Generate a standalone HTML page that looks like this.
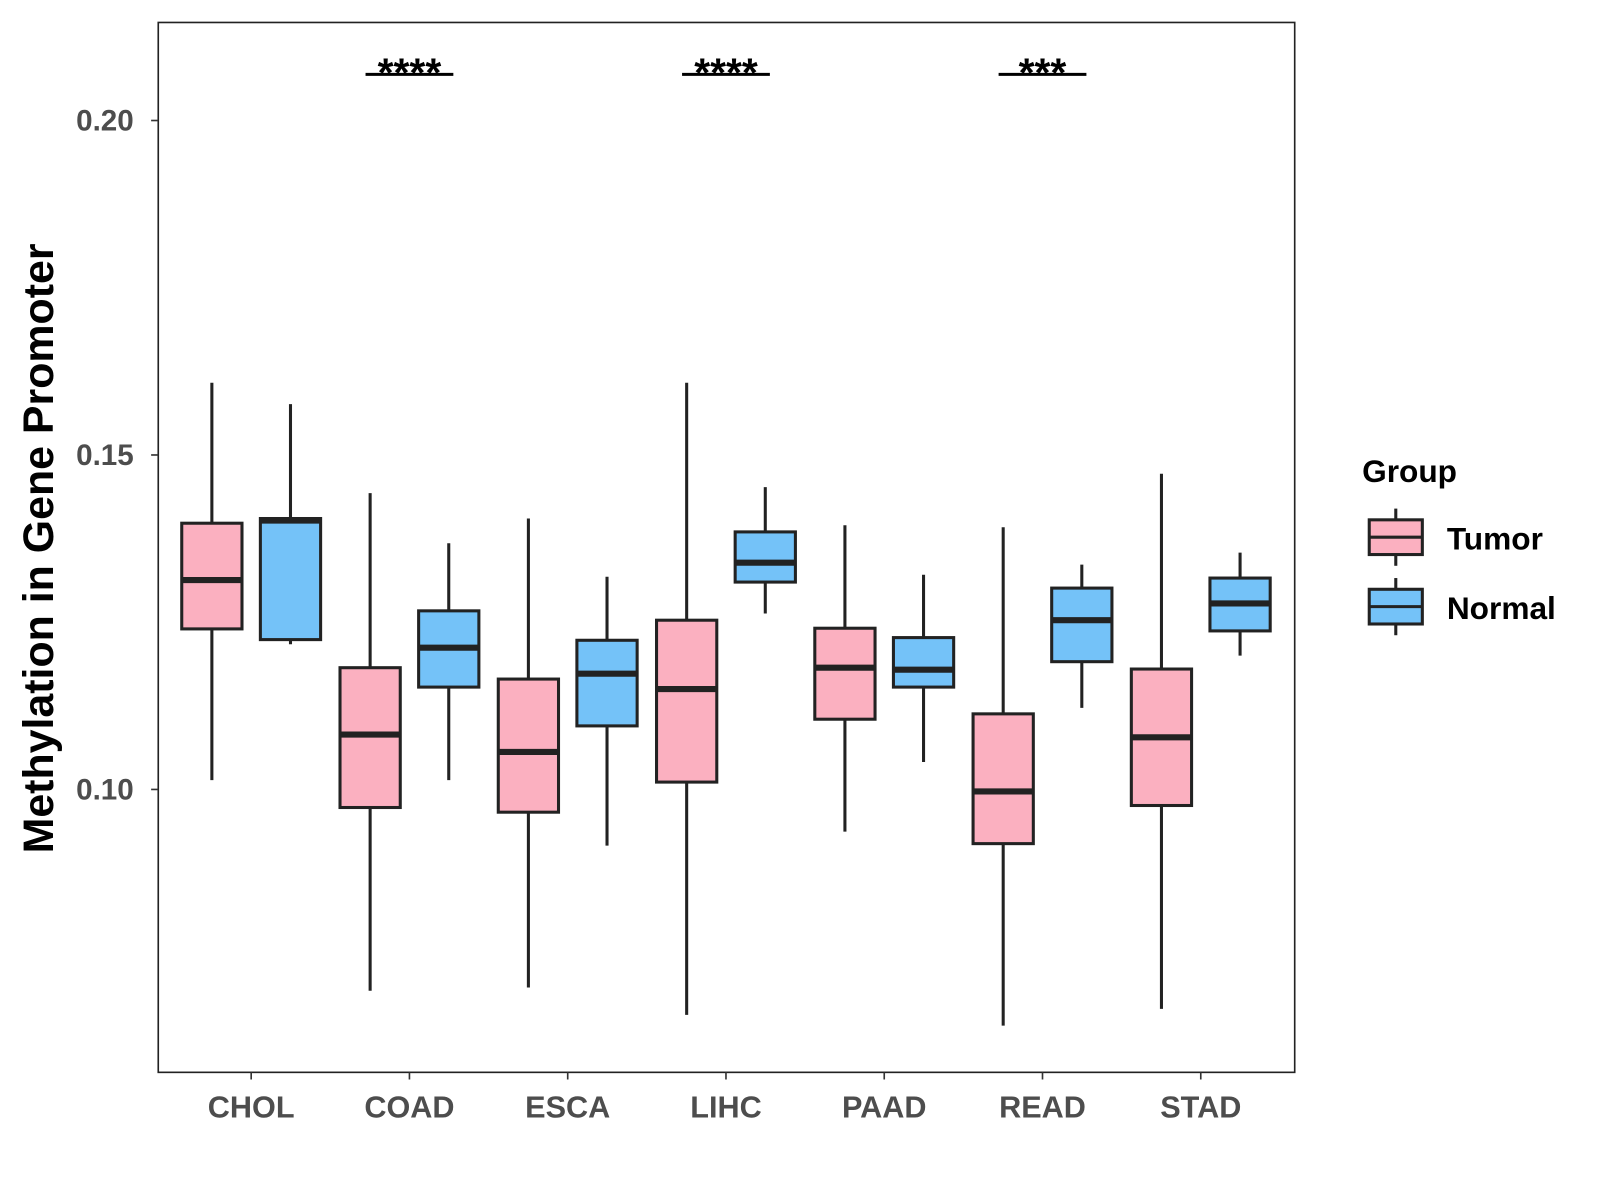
<!DOCTYPE html>
<html><head><meta charset="utf-8"><style>
html,body{margin:0;padding:0;background:#fff;}
svg{display:block;font-family:"Liberation Sans",Arial,sans-serif;}
</style></head><body>
<svg id="chart" width="1600" height="1200" viewBox="0 0 1567 1175" preserveAspectRatio="none" xmlns="http://www.w3.org/2000/svg">
<rect x="0" y="0" width="1567" height="1175" fill="#fff"/>
<rect x="155" y="22" width="1113" height="1028" fill="none" stroke="#222" stroke-width="1.6"/>
<g id="yaxis"></g>
<g id="xaxis"></g>
<g id="boxes"></g>
<g id="sig"></g>
<text x="52" y="537" transform="rotate(-90 52 537)" text-anchor="middle" font-size="42" font-weight="bold" fill="#000">Methylation in Gene Promoter</text>
<g>
<text x="1334" y="472" font-size="31" font-weight="bold" fill="#000">Group</text>
<g>
<line x1="1367" y1="498" x2="1367" y2="554" stroke="#222" stroke-width="3"/>
<rect x="1341" y="509" width="52" height="34" fill="#FBB0C0" stroke="#222" stroke-width="3"/>
<line x1="1341" y1="526" x2="1393" y2="526" stroke="#222" stroke-width="3"/>
<text x="1417" y="538" font-size="31" font-weight="bold" fill="#000">Tumor</text>
</g>
<g>
<line x1="1367" y1="566" x2="1367" y2="622" stroke="#222" stroke-width="3"/>
<rect x="1341" y="577" width="52" height="34" fill="#74C2F8" stroke="#222" stroke-width="3"/>
<line x1="1341" y1="594" x2="1393" y2="594" stroke="#222" stroke-width="3"/>
<text x="1417" y="606" font-size="31" font-weight="bold" fill="#000">Normal</text>
</g>
</g>
</svg>
<script>
const categories = ["CHOL","COAD","ESCA","LIHC","PAAD","READ","STAD"];
// [lower whisker, Q1, median, Q3, upper whisker]
const tumorStats = [
 [0.1014,0.1240,0.1313,0.1398,0.1608],
 [0.0699,0.0973,0.1082,0.1182,0.1443],
 [0.0704,0.0966,0.1056,0.1165,0.1405],
 [0.0663,0.1011,0.1150,0.1253,0.1608],
 [0.0937,0.1105,0.1182,0.1241,0.1395],
 [0.0647,0.0919,0.0997,0.1113,0.1392],
 [0.0672,0.0976,0.1078,0.1180,0.1472]
];
const normalStats = [
 [0.1217,0.1224,0.1402,0.1405,0.1576],
 [0.1014,0.1153,0.1212,0.1267,0.1368],
 [0.0916,0.1095,0.1173,0.1223,0.1318],
 [0.1263,0.1310,0.1339,0.1385,0.1452],
 [0.1041,0.1153,0.1179,0.1227,0.1321],
 [0.1122,0.1191,0.1253,0.1301,0.1336],
 [0.1200,0.1237,0.1278,0.1316,0.1354]
];
const yTicks = [0.10,0.15,0.20];
const yTickLabels = ["0.10","0.15","0.20"];
const sigCategories = ["COAD","LIHC","READ"];
const sigLabels = ["****","****","***"];
const sigValue = 0.2069;

const NS="http://www.w3.org/2000/svg";
function y(v){return 773-(v-0.10)*6550;}
function xc(i){return 246+i*155;}
function mk(tag,attrs,parent){const e=document.createElementNS(NS,tag);for(const k in attrs)e.setAttribute(k,attrs[k]);parent.appendChild(e);return e;}
const ya=document.getElementById('yaxis'), xa=document.getElementById('xaxis'), bx=document.getElementById('boxes'), sg=document.getElementById('sig');
yTicks.forEach((t,i)=>{
 const l=mk('line',{x1:148,x2:155,y1:y(t),y2:y(t),stroke:'#333','stroke-width':1.6},ya);
 
 
 const tx=mk('text',{x:131,y:y(t)+10,'text-anchor':'end','font-size':29,'font-weight':'bold',fill:'#4d4d4d'},ya);
 tx.textContent=yTickLabels[i];
 
 
});
categories.forEach((c,i)=>{
 const l=mk('line',{x1:xc(i),x2:xc(i),y1:1050,y2:1057,stroke:'#333','stroke-width':1.6},xa);
 
 
 const tx=mk('text',{x:xc(i),y:1094,'text-anchor':'middle','font-size':30,'font-weight':'bold',fill:'#4d4d4d'},xa);
 tx.textContent=c;
 
 
});
function drawBox(s,cx,fill,name){
 const g=mk('g',{},bx);
 
 
 mk('line',{x1:cx,x2:cx,y1:y(s[0]),y2:y(s[4]),stroke:'#222','stroke-width':3},g);
 mk('rect',{x:cx-29.5,y:y(s[3]),width:59,height:y(s[1])-y(s[3]),fill:fill,stroke:'#222','stroke-width':3},g);
 mk('line',{x1:cx-29.5,x2:cx+29.5,y1:y(s[2]),y2:y(s[2]),stroke:'#222','stroke-width':6},g);
}
categories.forEach((c,i)=>{
 drawBox(tumorStats[i],xc(i)-38.5,'#FBB0C0','box-tumor-'+c.toLowerCase());
 drawBox(normalStats[i],xc(i)+38.5,'#74C2F8','box-normal-'+c.toLowerCase());
});
sigCategories.forEach((c,k)=>{
 const i=categories.indexOf(c);
 const l=mk('line',{x1:xc(i)-43,x2:xc(i)+43,y1:y(sigValue),y2:y(sigValue),stroke:'#000','stroke-width':3},sg);
 
 
 const t=mk('text',{x:xc(i),y:y(sigValue)+12,'text-anchor':'middle','font-size':40,'font-weight':'bold',fill:'#000'},sg);
 t.textContent=sigLabels[k];
 
 
});
</script>
</body></html>
